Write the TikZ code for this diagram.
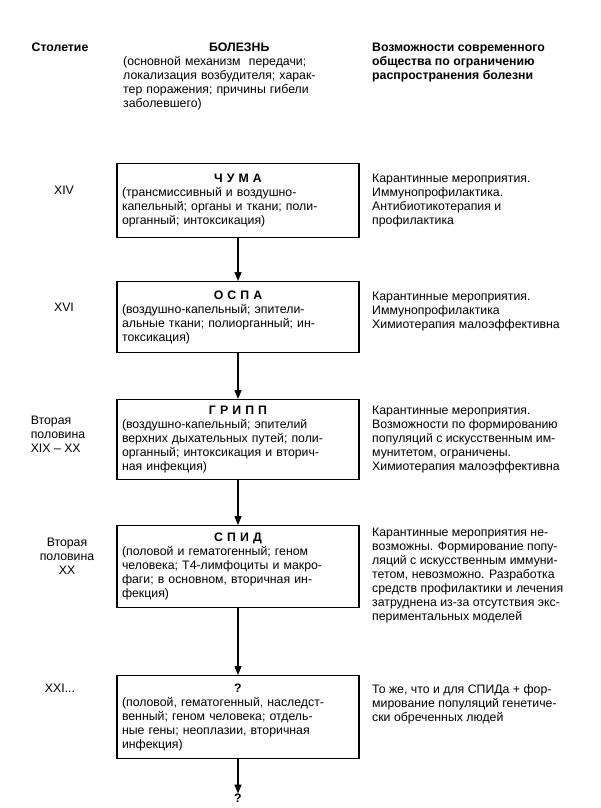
\documentclass[tikz,border=0pt]{standalone}
\usepackage{fontspec}
\setmainfont{Liberation Sans}
\usetikzlibrary{arrows.meta,positioning}
\newcommand{\txtfont}{\fontsize{12.3pt}{14pt}\selectfont}
\tikzset{%
	disease/.style = {draw, rectangle, line width=1.4pt, text width=232pt, inner xsep=5pt, inner ysep=2pt, align=left, font=\txtfont, anchor=north},
	note/.style    = {inner sep=0pt, align=left, anchor=north west, font=\txtfont},
	era/.style     = {inner sep=0pt, align=center, font=\txtfont},
	arrow/.style   = {line width=1.4pt, -{Triangle[length=9pt,width=7pt]}},
}
\begin{document}
\begin{tikzpicture}[x=1pt,y=-1pt]
	\useasboundingbox (0,0) rectangle (600,808);
	
	% column heads
	\node[era,font=\txtfont\bfseries] (hcent) at (60,47) {Столетие};
	\node[note,text width=232pt] (hdis) at (123,43) {{\centering\bfseries БОЛЕЗНЬ\par}(основной механизм\ \ передачи;\\локализация возбудителя; харак-\\тер поражения; причины гибели\\заболевшего)};
	\node[note,font=\txtfont\bfseries] (hsoc) at (372,43) {Возможности современного\\общества по ограничению\\распространения болезни};
	
	% diseases
	\node[disease,minimum height=74pt] (chuma) at (238,163) {{\centering\bfseries Ч У М А\par}(трансмиссивный и воздушно-\\капельный; органы и ткани; поли-\\органный; интоксикация)};
	\node[disease,minimum height=71pt] (ospa) at (238,281) {{\centering\bfseries О С П А\par}(воздушно-капельный; эпители-\\альные ткани; полиорганный; ин-\\токсикация)};
	\node[disease,minimum height=80pt] (gripp) at (238,399) {{\centering\bfseries Г Р И П П\par}(воздушно-капельный; эпителий\\верхних дыхательных путей; поли-\\органный; интоксикация и вторич-\\ная инфекция)};
	\node[disease,minimum height=82pt] (spid) at (238,525) {{\centering\bfseries С П И Д\par}(половой и гематогенный; геном\\человека; Т4-лимфоциты и макро-\\фаги; в основном, вторичная ин-\\фекция)};
	\node[disease,minimum height=83pt] (unkn) at (238,675) {{\centering\bfseries ?\par}(половой, гематогенный, наследст-\\венный; геном человека; отдель-\\ные гены; неоплазии, вторичная\\инфекция)};
	\node[era,font=\txtfont\bfseries] (next) at (238,798) {?};
	
	\draw[arrow] (chuma) -- (ospa);
	\draw[arrow] (ospa) -- (gripp);
	\draw[arrow] (gripp) -- (spid);
	\draw[arrow] (spid) -- (unkn);
	\draw[arrow] (unkn) -- (next);
	
	% centuries
	\node[era] (c14) at (64,190) {XIV};
	\node[era] (c16) at (64,307) {XVI};
	\node[era,align=left] (c19) at (58,434) {Вторая\\половина\\XIX – XX};
	\node[era] (c20) at (67,556) {Вторая\\половина\\XX};
	\node[era] (c21) at (60,688) {XXI...};
	
	% measures
	\node[note] (m14) at (372,174) {Карантинные мероприятия.\\Иммунопрофилактика.\\Антибиотикотерапия и\\профилактика};
	\node[note] (m16) at (372,292) {Карантинные мероприятия.\\Иммунопрофилактика\\Химиотерапия малоэффективна};
	\node[note] (m19) at (372,406) {Карантинные мероприятия.\\Возможности по формированию\\популяций с искусственным им-\\мунитетом, ограничены.\\Химиотерапия малоэффективна};
	\node[note] (m20) at (372,528) {Карантинные мероприятия не-\\возможны. Формирование попу-\\ляций с искусственным иммуни-\\тетом, невозможно. Разработка\\средств профилактики и лечения\\затруднена из-за отсутствия экс-\\периментальных моделей};
	\node[note] (m21) at (372,684) {То же, что и для СПИДа + фор-\\мирование популяций генетиче-\\ски обреченных людей};
\end{tikzpicture}
\end{document}
